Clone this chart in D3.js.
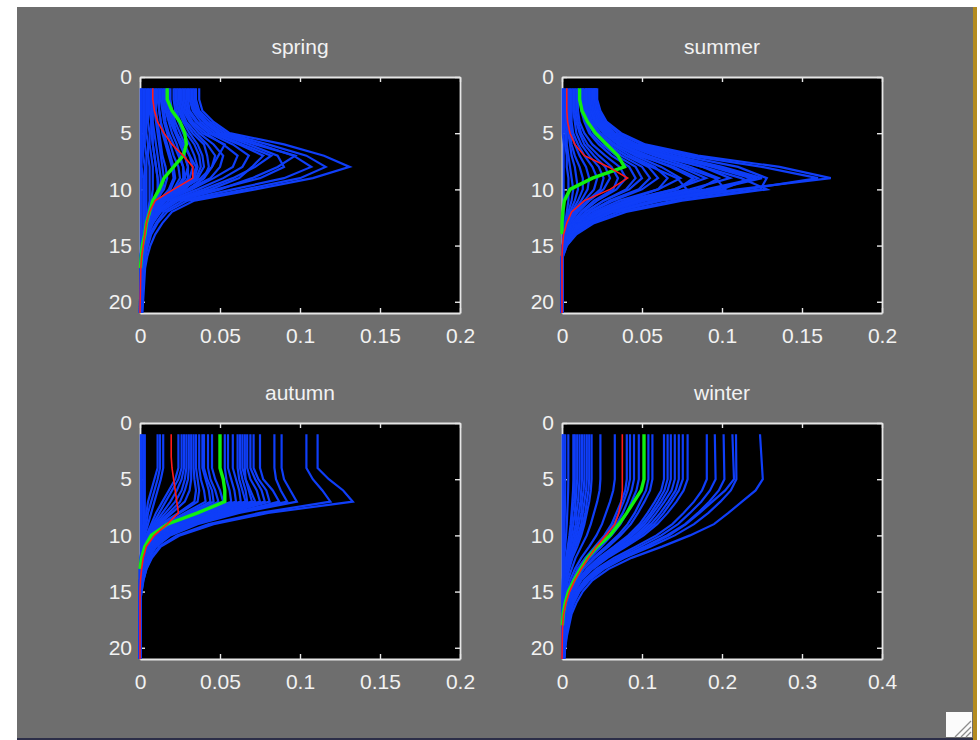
<!DOCTYPE html>
<html>
<head>
<meta charset="utf-8">
<script src="https://cdn.jsdelivr.net/npm/d3@7"></script>
<style>
  body { margin: 0; background: #fff; }
  svg text { font-family: "Liberation Sans", Arial, sans-serif; }
</style>
</head>
<body>
<svg id="fig"></svg>
<script>
const SEASONS = ['spring', 'summer', 'autumn', 'winter']
const Y_TICKS = [0, 5, 10, 15, 20]
const X_TICKS_SMALL = [0, 0.05, 0.1, 0.15, 0.2]
const X_TICKS_WIDE = [0, 0.1, 0.2, 0.3, 0.4]
const DEPTH_MAX = 21

// depth levels the profiles were read at
const DEPTHS = [1, 2, 3, 4, 5, 6, 7, 8, 9, 10, 11, 12, 13, 14, 15, 16, 17, 21]
const WINTER_DEPTHS = [1, 5, 6, 7, 8, 9, 10, 11, 12, 13, 14, 15, 16, 17, 18, 19, 20, 21]

const SPRING_BLUE = [
  [.037,.037,.039,.046,.056,.090,.115,.131,.108,.072,.034,.020,.014,.0095,.0065,.0045,.0032,.0015],
  [.035,.035,.037,.044,.054,.080,.104,.116,.100,.066,.030,.017,.011,.007,.005,.0035,.0025,.0012],
  [.034,.034,.036,.042,.052,.075,.096,.107,.090,.058,.027,.015,.010,.006,.004,.003,.002,.001],
  [.033,.033,.035,.041,.050,.072,.097,.086,.070,.050,.024,.013,.008,.005,.003,.002,.0015,.001],
  [.032,.032,.034,.040,.049,.068,.086,.090,.075,.048,.022,.012,.008,.005,.003,.002,.0015,.0008],
  [.031,.031,.033,.038,.047,.064,.082,.072,.058,.040,.020,.011,.007,.004,.003,.002,.001,.0008],
  [.030,.030,.031,.036,.045,.062,.077,.070,.062,.044,.021,.011,.007,.004,.003,.002,.001,.0006],
  [.029,.029,.030,.035,.043,.058,.068,.064,.052,.036,.018,.010,.006,.004,.002,.0015,.001,.0005],
  [.028,.028,.029,.033,.041,.052,.061,.058,.046,.032,.016,.009,.006,.003,.002,.0015,.001,.0005],
  [.027,.027,.028,.032,.039,.053,.049,.045,.040,.030,.015,.008,.005,.003,.002,.001,.0008,.0004],
  [.026,.026,.027,.031,.037,.046,.052,.050,.044,.030,.015,.008,.005,.003,.002,.001,.0008,.0004],
  [.025,.025,.026,.029,.035,.042,.047,.045,.038,.026,.013,.007,.004,.003,.002,.001,.0006,.0003],
  [.024,.024,.025,.028,.033,.040,.042,.043,.040,.030,.014,.007,.004,.002,.0015,.001,.0005,.0003],
  [.023,.023,.024,.027,.031,.036,.039,.040,.036,.026,.013,.007,.004,.002,.0015,.001,.0005,.0002],
  [.022,.022,.023,.025,.029,.034,.037,.038,.035,.028,.015,.008,.004,.002,.001,.0008,.0004,.0002],
  [.021,.021,.022,.024,.027,.031,.034,.036,.034,.027,.013,.007,.004,.002,.001,.0006,.0003,.0001],
  [.019,.019,.020,.022,.025,.028,.031,.033,.031,.024,.012,.006,.003,.002,.001,.0005,.0002,0],
  [.018,.018,.019,.021,.023,.026,.028,.030,.030,.024,.013,.007,.004,.002,.001,.0005,.0002,0],
  [.017,.017,.018,.020,.023,.027,.031,.035,.033,.025,.013,.007,.004,.002,.001,.0005,.0002,0],
  [.016,.016,.017,.019,.022,.025,.028,.030,.028,.022,.012,.007,.004,.002,.001,.0005,.0002,0],
  [.015,.015,.016,.018,.020,.023,.025,.027,.027,.022,.012,.006,.003,.0015,.0008,.0004,.0002,0],
  [.014,.014,.015,.016,.018,.021,.024,.027,.028,.023,.014,.008,.005,.003,.0015,.0008,.0004,0],
  [.013,.013,.014,.015,.017,.019,.021,.024,.025,.021,.014,.008,.004,.002,.001,.0005,.0002,0],
  [.012,.012,.012,.013,.015,.017,.019,.021,.022,.019,.013,.008,.005,.003,.0015,.0008,.0004,.0001],
  [.011,.011,.012,.013,.014,.016,.018,.020,.021,.018,.012,.007,.004,.002,.001,.0005,.0002,0],
  [.010,.010,.010,.011,.012,.013,.014,.016,.017,.015,.010,.006,.004,.002,.001,.0005,.0002,0],
  [.009,.009,.009,.010,.011,.012,.013,.014,.015,.014,.011,.008,.005,.003,.0018,.001,.0005,.0002],
  [.008,.008,.008,.008,.009,.010,.011,.012,.013,.013,.011,.008,.005,.003,.002,.0012,.0007,.0003],
  [.007,.007,.007,.007,.008,.008,.009,.010,.011,.012,.010,.008,.006,.004,.0025,.0015,.0008,.0004],
  [.006,.006,.006,.007,.007,.008,.009,.010,.011,.011,.009,.006,.004,.0025,.0015,.001,.0005,.0002],
  [.005,.005,.005,.005,.006,.006,.007,.008,.008,.008,.007,.006,.004,.003,.002,.0012,.0008,.0003],
  [.004,.004,.004,.004,.004,.005,.005,.006,.006,.006,.006,.005,.004,.003,.002,.0015,.001,.0005],
  [.003,.003,.003,.003,.003,.003,.004,.004,.004,.004,.004,.004,.004,.003,.0025,.002,.0015,.0008],
  [.002,.002,.002,.002,.002,.002,.002,.003,.003,.003,.003,.003,.003,.003,.002,.002,.0015,.001],
  [.001,.001,.001,.001,.001,.001,.001,.001,.002,.002,.002,.002,.002,.002,.002,.0015,.0012,.001],
  [.0005,.0005,.0005,.0005,.0005,.0005,.0005,.0005,.0005,.0005,.0005,.0005,.0005,.0005,.0005,.0005,.0005,.0005]
]
const SPRING_GREEN = [.017,.017,.020,.025,.028,.029,.027,.021,.015,.012,.008,.006,.004,.003,.0015,.0008,.0003,null]
const SPRING_RED = [.008,.008,.009,.011,.015,.020,.027,.033,.033,.021,.0095,.006,.004,.003,.002,.001,.0005,0]

const SUMMER_BLUE = [
  [.022,.022,.024,.028,.037,.052,.085,.136,.168,.110,.058,.030,.015,.006,.002,0,0,0],
  [.021,.021,.023,.027,.035,.050,.080,.125,.160,.115,.062,.032,.016,.007,.002,0,0,0],
  [.021,.021,.022,.025,.031,.042,.060,.088,.112,.128,.075,.040,.020,.009,.003,.0005,0,0],
  [.021,.021,.022,.026,.033,.047,.075,.110,.128,.124,.070,.036,.018,.008,.003,.0005,0,0],
  [.020,.020,.021,.025,.032,.045,.070,.100,.125,.095,.052,.028,.014,.006,.002,0,0,0],
  [.020,.020,.021,.024,.031,.043,.066,.094,.118,.100,.058,.030,.016,.007,.002,0,0,0],
  [.019,.019,.020,.023,.030,.041,.062,.088,.105,.080,.046,.025,.013,.005,.0015,0,0,0],
  [.019,.019,.020,.023,.029,.040,.064,.096,.122,.090,.050,.027,.013,.006,.002,0,0,0],
  [.018,.018,.019,.022,.028,.039,.058,.080,.098,.085,.050,.028,.014,.006,.002,0,0,0],
  [.018,.018,.019,.021,.027,.037,.054,.074,.090,.070,.040,.022,.011,.005,.0015,0,0,0],
  [.017,.017,.018,.020,.026,.035,.050,.068,.082,.072,.044,.024,.012,.005,.0015,0,0,0],
  [.017,.017,.018,.021,.026,.036,.052,.076,.096,.102,.060,.032,.016,.007,.002,0,0,0],
  [.016,.016,.017,.019,.024,.033,.046,.062,.074,.060,.036,.020,.010,.004,.001,0,0,0],
  [.016,.016,.016,.018,.023,.031,.043,.058,.066,.060,.040,.022,.011,.005,.0015,0,0,0],
  [.015,.015,.016,.018,.023,.032,.048,.070,.085,.070,.042,.023,.012,.005,.0015,0,0,0],
  [.015,.015,.015,.017,.021,.029,.040,.054,.060,.050,.032,.018,.009,.004,.001,0,0,0],
  [.014,.014,.014,.016,.020,.027,.037,.050,.055,.048,.030,.017,.009,.004,.001,0,0,0],
  [.013,.013,.014,.016,.020,.028,.040,.056,.072,.078,.048,.026,.013,.006,.002,0,0,0],
  [.013,.013,.013,.015,.018,.025,.034,.046,.050,.042,.026,.015,.008,.003,.001,0,0,0],
  [.012,.012,.012,.014,.017,.023,.031,.042,.046,.040,.026,.015,.008,.003,.001,0,0,0],
  [.010,.010,.010,.011,.014,.019,.027,.036,.040,.034,.022,.013,.007,.003,.001,0,0,0],
  [.009,.009,.009,.010,.012,.016,.023,.031,.035,.032,.020,.012,.006,.003,.001,0,0,0],
  [.008,.008,.008,.009,.011,.014,.020,.027,.030,.026,.017,.010,.005,.002,.0005,0,0,0],
  [.007,.007,.007,.008,.009,.012,.017,.023,.026,.024,.016,.009,.005,.002,.0005,0,0,0],
  [.006,.006,.006,.006,.007,.010,.014,.019,.022,.020,.014,.008,.004,.002,.0005,0,0,0],
  [.005,.005,.005,.005,.006,.008,.011,.015,.017,.016,.012,.007,.004,.002,.0005,0,0,0],
  [.004,.004,.004,.004,.005,.006,.008,.011,.013,.013,.010,.006,.004,.002,.0005,0,0,0],
  [.003,.003,.003,.003,.004,.005,.006,.008,.009,.010,.008,.005,.003,.0015,.0005,0,0,0],
  [.002,.002,.002,.002,.003,.003,.004,.005,.006,.007,.006,.004,.003,.0015,.0005,0,0,0],
  [.001,.001,.001,.001,.002,.002,.003,.003,.004,.004,.004,.003,.002,.001,.0005,0,0,0],
  [.0005,.0005,.0005,.0005,.0005,.001,.001,.001,.001,.001,.001,.001,.001,.0005,.0005,0,0,0]
]
const SUMMER_GREEN = [.011,.011,.0125,.016,.021,.028,.035,.039,.019,.005,.0015,.0005,0,0,null,null,null,null]
const SUMMER_RED = [.003,.003,.003,.0035,.005,.008,.014,.029,.041,.030,.014,.006,.003,.001,.0003,0,0,0]

const AUTUMN_BLUE = [
  [.111,.111,.111,.111,.118,.127,.133,.080,.046,.025,.013,.0075,.004,.0022,.001,0,0,0],
  [.104,.104,.104,.104,.108,.114,.119,.075,.043,.023,.012,.007,.004,.002,.001,0,0,0],
  [.0885,.0885,.0885,.0885,.090,.094,.098,.062,.036,.019,.010,.006,.003,.0015,.0005,0,0,0],
  [.084,.084,.084,.084,.085,.088,.092,.060,.034,.018,.010,.005,.003,.0015,.0005,0,0,0],
  [.075,.075,.075,.075,.077,.083,.087,.058,.032,.017,.009,.005,.003,.001,0,0,0,0],
  [.071,.071,.071,.071,.074,.079,.081,.055,.030,.016,.008,.004,.002,.001,0,0,0,0],
  [.069,.069,.069,.069,.072,.076,.078,.052,.029,.015,.008,.004,.002,.001,0,0,0,0],
  [.067,.067,.067,.067,.069,.073,.075,.050,.028,.014,.007,.004,.002,.001,0,0,0,0],
  [.0655,.0655,.0655,.0655,.066,.069,.072,.048,.026,.013,.007,.004,.002,.001,0,0,0,0],
  [.064,.064,.064,.064,.066,.068,.070,.046,.025,.013,.007,.003,.002,.001,0,0,0,0],
  [.0625,.0625,.0625,.0625,.064,.066,.067,.044,.024,.012,.006,.003,.0015,.0005,0,0,0,0],
  [.061,.061,.061,.061,.062,.064,.066,.042,.023,.012,.006,.003,.0015,.0005,0,0,0,0],
  [.058,.058,.058,.058,.060,.062,.063,.040,.022,.011,.006,.003,.001,.0005,0,0,0,0],
  [.055,.055,.055,.055,.057,.059,.060,.039,.021,.011,.005,.003,.001,.0005,0,0,0,0],
  [.053,.053,.053,.053,.054,.056,.057,.037,.020,.010,.005,.0025,.001,0,0,0,0,0],
  [.045,.045,.045,.045,.047,.050,.052,.036,.020,.010,.005,.0025,.001,0,0,0,0,0],
  [.0425,.0425,.0425,.0425,.044,.047,.049,.034,.019,.009,.005,.002,.001,0,0,0,0,0],
  [.040,.040,.040,.040,.042,.045,.046,.032,.018,.009,.004,.002,.001,0,0,0,0,0],
  [.039,.039,.039,.039,.041,.043,.044,.030,.017,.008,.004,.002,.001,0,0,0,0,0],
  [.037,.037,.037,.037,.038,.040,.041,.028,.016,.008,.004,.002,.001,0,0,0,0,0],
  [.035,.035,.035,.035,.036,.037,.036,.025,.014,.007,.0035,.0015,.0005,0,0,0,0,0],
  [.0335,.0335,.0335,.0335,.034,.035,.034,.024,.013,.007,.003,.0015,.0005,0,0,0,0,0],
  [.032,.032,.032,.032,.032,.031,.028,.020,.012,.006,.003,.0015,.0005,0,0,0,0,0],
  [.0305,.0305,.0305,.0305,.030,.028,.025,.018,.011,.006,.003,.0015,.0005,0,0,0,0,0],
  [.029,.029,.029,.029,.028,.026,.022,.016,.010,.005,.0025,.001,0,0,0,0,0,0],
  [.0275,.0275,.0275,.0275,.026,.023,.019,.014,.009,.005,.0025,.001,0,0,0,0,0,0],
  [.026,.026,.026,.026,.024,.020,.016,.012,.008,.004,.002,.001,0,0,0,0,0,0],
  [.024,.024,.024,.024,.022,.018,.014,.010,.007,.004,.002,.001,0,0,0,0,0,0],
  [.0145,.0145,.0145,.0145,.013,.011,.009,.007,.005,.003,.0015,.0005,0,0,0,0,0,0],
  [.0125,.0125,.0125,.0125,.011,.009,.007,.005,.004,.0025,.0012,.0005,0,0,0,0,0,0],
  [.011,.011,.011,.011,.009,.007,.005,.004,.003,.002,.001,.0005,0,0,0,0,0,0],
  [.003,.003,.003,.003,.003,.003,.003,.003,.003,.002,.001,.0005,0,0,0,0,0,0],
  [.002,.002,.002,.002,.002,.002,.002,.002,.002,.0015,.001,.0005,0,0,0,0,0,0],
  [.001,.001,.001,.001,.001,.001,.001,.001,.001,.001,.001,.001,.0005,0,0,0,0,0],
  [.0005,.0005,.0005,.0005,.0005,.0005,.0005,.0005,.0005,.0005,.0005,.0005,.0005,.0005,.0005,0,0,0]
]
const AUTUMN_GREEN = [.050,.050,.050,.050,.052,.053,.053,.036,.017,.007,.003,.001,0,null,null,null,null,null]
const AUTUMN_RED = [.0195,.0195,.0195,.020,.021,.022,.023,.024,.017,.009,.004,.002,.001,.0003,0,0,0,0]

const WINTER_BLUE = [
  [.2475,.251,.242,.225,.208,.190,.160,.125,.087,.058,.038,.026,.018,.012,.009,.006,.004,.003],
  [.2175,.218,.211,.198,.183,.165,.141,.111,.078,.052,.034,.022,.015,.010,.0076,.0054,.0037,.0026],
  [.213,.215,.204,.188,.172,.155,.134,.106,.075,.050,.032,.021,.014,.010,.007,.005,.0035,.0025],
  [.202,.203,.196,.184,.170,.154,.131,.103,.073,.048,.031,.020,.014,.0097,.007,.005,.0034,.0024],
  [.191,.192,.185,.174,.160,.145,.124,.097,.069,.046,.030,.019,.013,.009,.0067,.0048,.0032,.0023],
  [.181,.181,.175,.165,.152,.138,.118,.092,.065,.043,.028,.018,.013,.0087,.0063,.0045,.0031,.0022],
  [.157,.157,.152,.143,.132,.119,.102,.080,.057,.038,.024,.016,.011,.0075,.0055,.0039,.0027,.0019],
  [.151,.151,.146,.137,.127,.115,.098,.077,.054,.036,.023,.015,.011,.0072,.0053,.0038,.0026,.0018],
  [.146,.146,.142,.133,.123,.111,.095,.074,.053,.035,.023,.015,.010,.007,.0051,.0037,.0025,.0018],
  [.141,.141,.137,.128,.118,.107,.092,.072,.051,.034,.022,.014,.010,.0068,.0049,.0035,.0024,.0017],
  [.136,.136,.132,.124,.114,.103,.088,.069,.049,.033,.021,.014,.0095,.0065,.0048,.0034,.0023,.0016],
  [.132,.132,.128,.120,.111,.100,.086,.067,.048,.032,.020,.013,.0092,.0063,.0046,.0033,.0022,.0016],
  [.1275,.1275,.124,.116,.107,.097,.083,.065,.046,.031,.020,.013,.0089,.0061,.0045,.0032,.0022,.0015],
  [.113,.113,.110,.103,.095,.086,.073,.058,.041,.027,.018,.011,.0079,.0054,.004,.0028,.0019,.0014],
  [.108,.108,.105,.098,.091,.082,.070,.055,.039,.026,.017,.011,.0076,.0052,.0038,.0027,.0018,.0013],
  [.096,.096,.093,.087,.081,.073,.062,.049,.035,.023,.015,.0096,.0067,.0046,.0034,.0024,.0016,.0012],
  [.090,.090,.087,.082,.076,.068,.059,.046,.032,.022,.014,.009,.0063,.0043,.0032,.0023,.0015,.0011],
  [.085,.085,.082,.077,.071,.065,.055,.043,.031,.020,.013,.0085,.006,.0041,.003,.0021,.0014,.001],
  [.081,.081,.079,.074,.068,.062,.053,.041,.029,.019,.013,.0081,.0057,.0039,.0028,.002,.0014,.001],
  [.066,.066,.064,.060,.055,.050,.043,.034,.024,.016,.010,.0066,.0046,.0032,.0023,.0017,.0011,.0008],
  [.048,.048,.047,.044,.040,.036,.031,.024,.017,.012,.0074,.0048,.0034,.0023,.0017,.0012,.0008,.0006],
  [.037,.037,.036,.034,.031,.028,.024,.019,.013,.0089,.0057,.0037,.0026,.0018,.0013,.0009,.0006,.0004],
  [.034,.034,.033,.031,.029,.026,.022,.017,.012,.0082,.0053,.0034,.0024,.0016,.0012,.0009,.0006,.0004],
  [.031,.031,.030,.028,.026,.024,.020,.016,.011,.0074,.0048,.0031,.0022,.0015,.0011,.0008,.0005,.0004],
  [.028,.028,.027,.025,.024,.021,.018,.014,.010,.0067,.0043,.0028,.002,.0013,.001,.0007,.0005,.0003],
  [.025,.025,.024,.023,.021,.019,.016,.013,.009,.006,.0039,.0025,.0018,.0012,.0009,.0006,.0004,.0003],
  [.022,.022,.021,.020,.018,.017,.014,.011,.0079,.0053,.0034,.0022,.0015,.0011,.0008,.0006,.0004,.0003],
  [.019,.019,.018,.017,.016,.014,.012,.0097,.0068,.0046,.0029,.0019,.0013,.0009,.0007,.0005,.0003,.0002],
  [.016,.016,.016,.015,.013,.012,.010,.0082,.0058,.0038,.0025,.0016,.0011,.0008,.0006,.0004,.0003,.0002],
  [.0142,.0142,.0138,.0129,.0119,.0108,.0092,.0072,.0051,.0034,.0022,.0014,.001,.0007,.0005,.0004,.0002,.0002],
  [.0079,.0079,.0077,.0072,.0066,.006,.0051,.004,.0028,.0019,.0012,.0008,.0006,.0004,.0003,.0002,.0001,.0001],
  [.004,.004,.004,.0038,.0035,.0032,.0028,.0024,.002,.0016,.0012,.0009,.0007,.0005,.0004,.0003,.0002,.0001],
  [.0017,.0017,.0017,.0017,.0017,.0017,.0017,.0017,.0017,.0017,.0015,.0013,.0011,.0009,.0007,.0005,.0004,.0003],
  [.0008,.0008,.0008,.0008,.0008,.0008,.0008,.0008,.0008,.0008,.0008,.0007,.0006,.0005,.0004,.0004,.0003,.0003]
]
const WINTER_GREEN = [.1025,.1025,.099,.090,.081,.071,.060,.044,.032,.023,.015,.008,.004,.0015,.0005,null,null,null]
const WINTER_RED = [.0754,.0754,.0754,.074,.071,.066,.055,.043,.033,.024,.016,.0095,.005,.002,.0008,.0004,.0002,0]

// figure layout
const W = 980, H = 740
const AX_W = 320, AX_H = 236
const COLS = [140, 562], ROWS = [77, 423]
const BLUE = '#0f3ef8', GREEN = '#10f010', RED = '#ff1a1a', AXIS_COLOR = '#e6e6e6', TEXT_COLOR = '#f2f2f2'

const panels = [
  {title: SEASONS[0], left: COLS[0], top: ROWS[0], xTicks: X_TICKS_SMALL, depths: DEPTHS, blue: SPRING_BLUE, green: SPRING_GREEN, red: SPRING_RED},
  {title: SEASONS[1], left: COLS[1], top: ROWS[0], xTicks: X_TICKS_SMALL, depths: DEPTHS, blue: SUMMER_BLUE, green: SUMMER_GREEN, red: SUMMER_RED},
  {title: SEASONS[2], left: COLS[0], top: ROWS[1], xTicks: X_TICKS_SMALL, depths: DEPTHS, blue: AUTUMN_BLUE, green: AUTUMN_GREEN, red: AUTUMN_RED},
  {title: SEASONS[3], left: COLS[1], top: ROWS[1], xTicks: X_TICKS_WIDE, depths: WINTER_DEPTHS, blue: WINTER_BLUE, green: WINTER_GREEN, red: WINTER_RED},
]

const svg = d3.select('#fig').attr('width', W).attr('height', H)

// window frame around the figure
svg.append('rect').attr('width', W).attr('height', H).attr('fill', '#ffffff')
svg.append('rect').attr('x', 17).attr('y', 7).attr('width', 956).attr('height', 731).attr('fill', '#6e6e6e')
svg.append('rect').attr('x', 973).attr('y', 7).attr('width', 4).attr('height', 733).attr('fill', '#b38b1f')
svg.append('rect').attr('x', 17).attr('y', 738).attr('width', 956).attr('height', 2).attr('fill', '#2c2e48')
const grip = svg.append('g')
grip.append('rect').attr('x', 946).attr('y', 712).attr('width', 26).attr('height', 25).attr('fill', '#fbfbfb')
for (const o of [0, 6, 11]) {
  grip.append('line').attr('x1', 971).attr('y1', 721 + o).attr('x2', 955 + o).attr('y2', 737)
    .attr('stroke', '#8c8c8c').attr('stroke-width', 1.2)
}

function styleAxis(g) {
  g.attr('font-family', null).attr('font-size', null)
  g.select('.domain').attr('stroke', AXIS_COLOR).attr('stroke-width', 1.8)
  g.selectAll('.tick line').attr('stroke', AXIS_COLOR).attr('stroke-width', 1.4)
  g.selectAll('.tick text').attr('fill', TEXT_COLOR).attr('font-size', 21)
}

function drawPanel(p) {
  const x = d3.scaleLinear().domain([0, p.xTicks[p.xTicks.length - 1]]).range([p.left, p.left + AX_W])
  const y = d3.scaleLinear().domain([0, DEPTH_MAX]).range([p.top, p.top + AX_H])
  const g = svg.append('g').attr('class', 'panel ' + p.title)

  g.append('rect')
    .attr('x', p.left).attr('y', p.top)
    .attr('width', AX_W).attr('height', AX_H)
    .attr('fill', '#000')

  const fmt = d3.format('~g')
  g.append('g').attr('transform', `translate(0,${p.top + AX_H})`)
    .call(d3.axisBottom(x).tickValues(p.xTicks).tickFormat(fmt).tickSizeInner(-5).tickSizeOuter(0).tickPadding(15))
    .call(styleAxis)
  g.append('g').attr('transform', `translate(0,${p.top})`)
    .call(d3.axisTop(x).tickValues(p.xTicks).tickFormat('').tickSizeInner(-5).tickSizeOuter(0))
    .call(styleAxis)
  g.append('g').attr('transform', `translate(${p.left},0)`)
    .call(d3.axisLeft(y).tickValues(Y_TICKS).tickFormat(fmt).tickSizeInner(-5).tickSizeOuter(0).tickPadding(8))
    .call(styleAxis)
  g.append('g').attr('transform', `translate(${p.left + AX_W},0)`)
    .call(d3.axisRight(y).tickValues(Y_TICKS).tickFormat('').tickSizeInner(-5).tickSizeOuter(0))
    .call(styleAxis)

  const line = d3.line()
    .defined(d => d[1] != null)
    .x(d => x(d[1]))
    .y(d => y(d[0]))
  const toPoints = vals => p.depths.map((dep, i) => [dep, vals[i]])

  g.append('g').selectAll('path').data(p.blue)
    .enter().append('path')
      .attr('d', v => line(toPoints(v)))
      .attr('fill', 'none')
      .attr('stroke', BLUE)
      .attr('stroke-width', 2.2)

  g.append('path')
    .attr('d', line(toPoints(p.green)))
    .attr('fill', 'none').attr('stroke', GREEN).attr('stroke-width', 3.4)

  g.append('path')
    .attr('d', line(toPoints(p.red)))
    .attr('fill', 'none').attr('stroke', RED).attr('stroke-width', 1.6)

  g.append('text')
    .text(p.title)
    .attr('x', p.left + AX_W / 2)
    .attr('y', p.top - 23)
    .attr('text-anchor', 'middle')
    .attr('font-size', 21)
    .attr('fill', TEXT_COLOR)
}

panels.forEach(drawPanel)
</script>
</body>
</html>
